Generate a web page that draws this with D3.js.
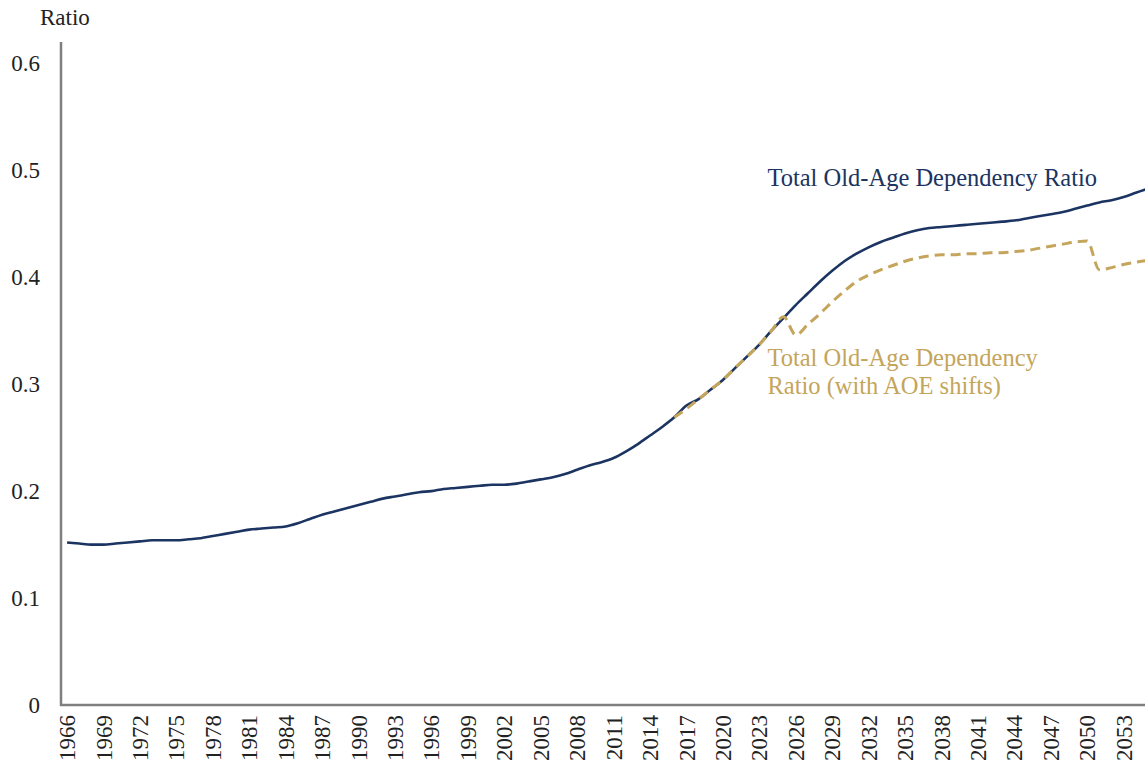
<!DOCTYPE html>
<html>
<head>
<meta charset="utf-8">
<script src="https://cdn.jsdelivr.net/npm/d3@7"></script>
<style>
  body { margin: 0; background: #fff; }
</style>
</head>
<body>
<script>
// chart data
var years = d3.range(1966, 2056);

var totalRatio = [
  0.152, 0.151, 0.150, 0.150, 0.151, 0.152, 0.153, 0.154, 0.154, 0.154,
  0.155, 0.156, 0.158, 0.160, 0.162, 0.164, 0.165, 0.166, 0.167, 0.170,
  0.174, 0.178, 0.181, 0.184, 0.187, 0.190, 0.193, 0.195, 0.197, 0.199,
  0.200, 0.202, 0.203, 0.204, 0.205, 0.206, 0.206, 0.207, 0.209, 0.211,
  0.213, 0.216, 0.220, 0.224, 0.227, 0.231, 0.237, 0.244, 0.252, 0.260,
  0.269, 0.280, 0.286, 0.295, 0.304, 0.315, 0.326, 0.337, 0.350, 0.362,
  0.374, 0.385, 0.396, 0.406, 0.415, 0.422, 0.428, 0.433, 0.437, 0.441,
  0.444, 0.446, 0.447, 0.448, 0.449, 0.450, 0.451, 0.452, 0.453, 0.455,
  0.457, 0.459, 0.461, 0.464, 0.467, 0.470, 0.472, 0.475, 0.479, 0.483
];

// AOE-shift series starts in 2016
var aoeStart = 2016;
var aoeRatio = [
  0.269, 0.277, 0.286, 0.295, 0.304, 0.315, 0.326, 0.337, 0.350, 0.363,
  0.346, 0.356, 0.366, 0.377, 0.387, 0.396, 0.402, 0.407, 0.411, 0.415,
  0.418, 0.420, 0.421, 0.421, 0.422, 0.422, 0.423, 0.423, 0.424, 0.425,
  0.427, 0.429, 0.431, 0.433, 0.434, 0.407, 0.409, 0.412, 0.414, 0.416
];

var yTicks = [0, 0.1, 0.2, 0.3, 0.4, 0.5, 0.6];
var xTickYears = years.filter(function (d) { return (d - 1966) % 3 == 0; });

var width = 1145,
    height = 767;

var navy = "#1b3461",
    gold = "#c4a55b",
    fontStack = "'Times New Roman', 'Liberation Serif', Times, 'DejaVu Serif', serif";

var svg = d3.select("body").append("svg")
    .attr("width", width)
    .attr("height", height)
    .attr("font-family", fontStack)
    .style("font-family", fontStack);

var x = d3.scalePoint()
    .domain(years)
    .range([61, 1154])
    .padding(0.5);

var y = d3.scaleLinear()
    .domain([0, 0.62])
    .range([705, 42]);

// y tick labels (no tick marks)
svg.append("g")
    .selectAll("text")
    .data(yTicks)
    .enter().append("text")
    .attr("x", 40)
    .attr("y", function (d) { return y(d); })
    .attr("dy", "0.35em")
    .attr("text-anchor", "end")
    .style("font-size", "23px")
    .style("fill", "#222")
    .text(function (d) { return d == 0 ? "0" : d3.format(".1f")(d); });

// axis title
svg.append("text")
    .attr("x", 40)
    .attr("y", 25)
    .style("font-size", "23px")
    .style("fill", "#222")
    .text("Ratio");

// x tick labels, rotated
svg.append("g")
    .selectAll("text")
    .data(xTickYears)
    .enter().append("text")
    .attr("transform", function (d) { return "translate(" + x(d) + ",715) rotate(-90)"; })
    .attr("dy", "0.35em")
    .attr("text-anchor", "end")
    .style("font-size", "23px")
    .style("fill", "#222")
    .text(function (d) { return d; });

var line = d3.line()
    .x(function (d) { return x(d[0]); })
    .y(function (d) { return y(d[1]); })
    .curve(d3.curveMonotoneX);

var totalPts = years.map(function (yr, i) { return [yr, totalRatio[i]]; });
var aoePts = aoeRatio.map(function (v, i) { return [aoeStart + i, v]; });

svg.append("path")
    .datum(totalPts)
    .attr("d", line)
    .attr("fill", "none")
    .attr("stroke", navy)
    .attr("stroke-width", 2.6);

svg.append("path")
    .datum(aoePts)
    .attr("d", line)
    .attr("fill", "none")
    .attr("stroke", gold)
    .attr("stroke-width", 3)
    .attr("stroke-dasharray", "10,6");

// axes lines
svg.append("line")
    .attr("x1", 61).attr("x2", 61)
    .attr("y1", y(0.62)).attr("y2", y(0) + 1)
    .attr("stroke", "#7f7f7f")
    .attr("stroke-width", 2.5);

svg.append("line")
    .attr("x1", 60).attr("x2", width)
    .attr("y1", y(0)).attr("y2", y(0))
    .attr("stroke", "#7f7f7f")
    .attr("stroke-width", 2.5);

// series labels
svg.append("text")
    .attr("x", x(2024) - 4)
    .attr("y", y(0.485))
    .style("font-size", "24.5px")
    .style("fill", navy)
    .text("Total Old-Age Dependency Ratio");

var aoeLabel = svg.append("text")
    .attr("x", x(2024) - 4)
    .attr("y", y(0.317))
    .style("font-size", "24.5px")
    .style("fill", gold);
aoeLabel.append("tspan")
    .attr("x", x(2024) - 4)
    .text("Total Old-Age Dependency");
aoeLabel.append("tspan")
    .attr("x", x(2024) - 4)
    .attr("dy", 28)
    .text("Ratio (with AOE shifts)");
</script>
</body>
</html>
